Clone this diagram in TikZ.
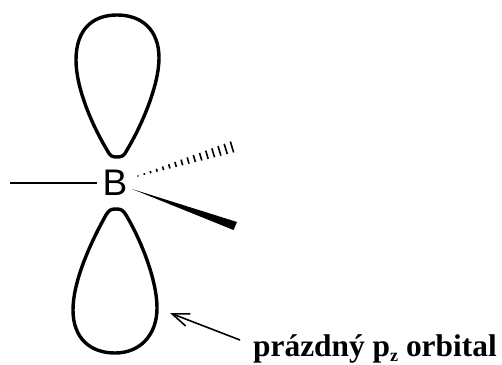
\documentclass[tikz,border=0pt]{standalone}
\usepackage{fontspec}
\setmainfont{Liberation Serif}
\newfontfamily\atomfont{Liberation Sans}
\usetikzlibrary{arrows.meta,calc}
\tikzset{
  lobe/.style={line width=3.4pt, line join=round},
  bond/.style={line width=1.3pt},
  pointer/.style={line width=1.6pt, {Straight Barb[length=17pt,width=13pt,line width=1.6pt]}-},
}
\newcommand{\lowz}{\raisebox{-5pt}{\fontsize{18}{18}\selectfont z}}
\begin{document}
\begin{tikzpicture}[x=1pt, y=-1pt]
  \useasboundingbox (0,0) rectangle (502,364);
  % central atom and plain bond
  \node[inner sep=5pt, font=\atomfont\fontsize{37}{40}\selectfont] (boron) at (115,183) {B};
  \coordinate (bondleft) at (10,183);
  \draw[bond] (bondleft) -- (boron.west |- bondleft);
  % upper lobe
  \draw[lobe] (117,15) .. controls (142,15) and (159,30) .. (159,58)
    .. controls (159,85) and (142,125) .. (127,150)
    .. controls (124,156) and (122,157) .. (117,157)
    .. controls (112,157) and (110,156) .. (107,150)
    .. controls (92,125) and (76,88) .. (76,60)
    .. controls (76,30) and (92,15) .. (117,15) -- cycle;
  % lower lobe
  \draw[lobe] (116,209) .. controls (121,209) and (123,210) .. (126,215)
    .. controls (141,240) and (157,280) .. (157,308)
    .. controls (157,335) and (140,353) .. (115,353)
    .. controls (90,353) and (73,338) .. (73,310)
    .. controls (73,280) and (92,240) .. (106,215)
    .. controls (109,210) and (111,209) .. (116,209) -- cycle;
  % hashed bond, going back
  \coordinate (hashstart) at (138,176);
  \coordinate (hashend) at (232,147);
  \foreach \i in {0,...,15}{
    \pgfmathsetmacro{\t}{\i/15}
    \pgfmathsetmacro{\hw}{0.5+5.2*\t}
    \draw[line width=1.6pt] ($(hashstart)!\t!(hashend)+(-0.29*\hw,-0.96*\hw)$) -- ($(hashstart)!\t!(hashend)+(0.29*\hw,0.96*\hw)$);
  }
  % solid wedge, coming forward
  \coordinate (wedgetip) at (132,189);
  \coordinate (wedgeup) at (237,222);
  \coordinate (wedgedown) at (233.5,230);
  \fill (wedgetip) -- (wedgeup) -- (wedgedown) -- cycle;
  % label and its arrow
  \node[anchor=base west, inner sep=0pt, font=\bfseries\fontsize{31.4}{36}\selectfont] (label) at (253,356) {prázdný p\lowz{} orbital};
  \coordinate (arrowtail) at (240,340);
  \coordinate (arrowtip) at (170,313);
  \draw[pointer] (arrowtip) -- (arrowtail);
\end{tikzpicture}
\end{document}
